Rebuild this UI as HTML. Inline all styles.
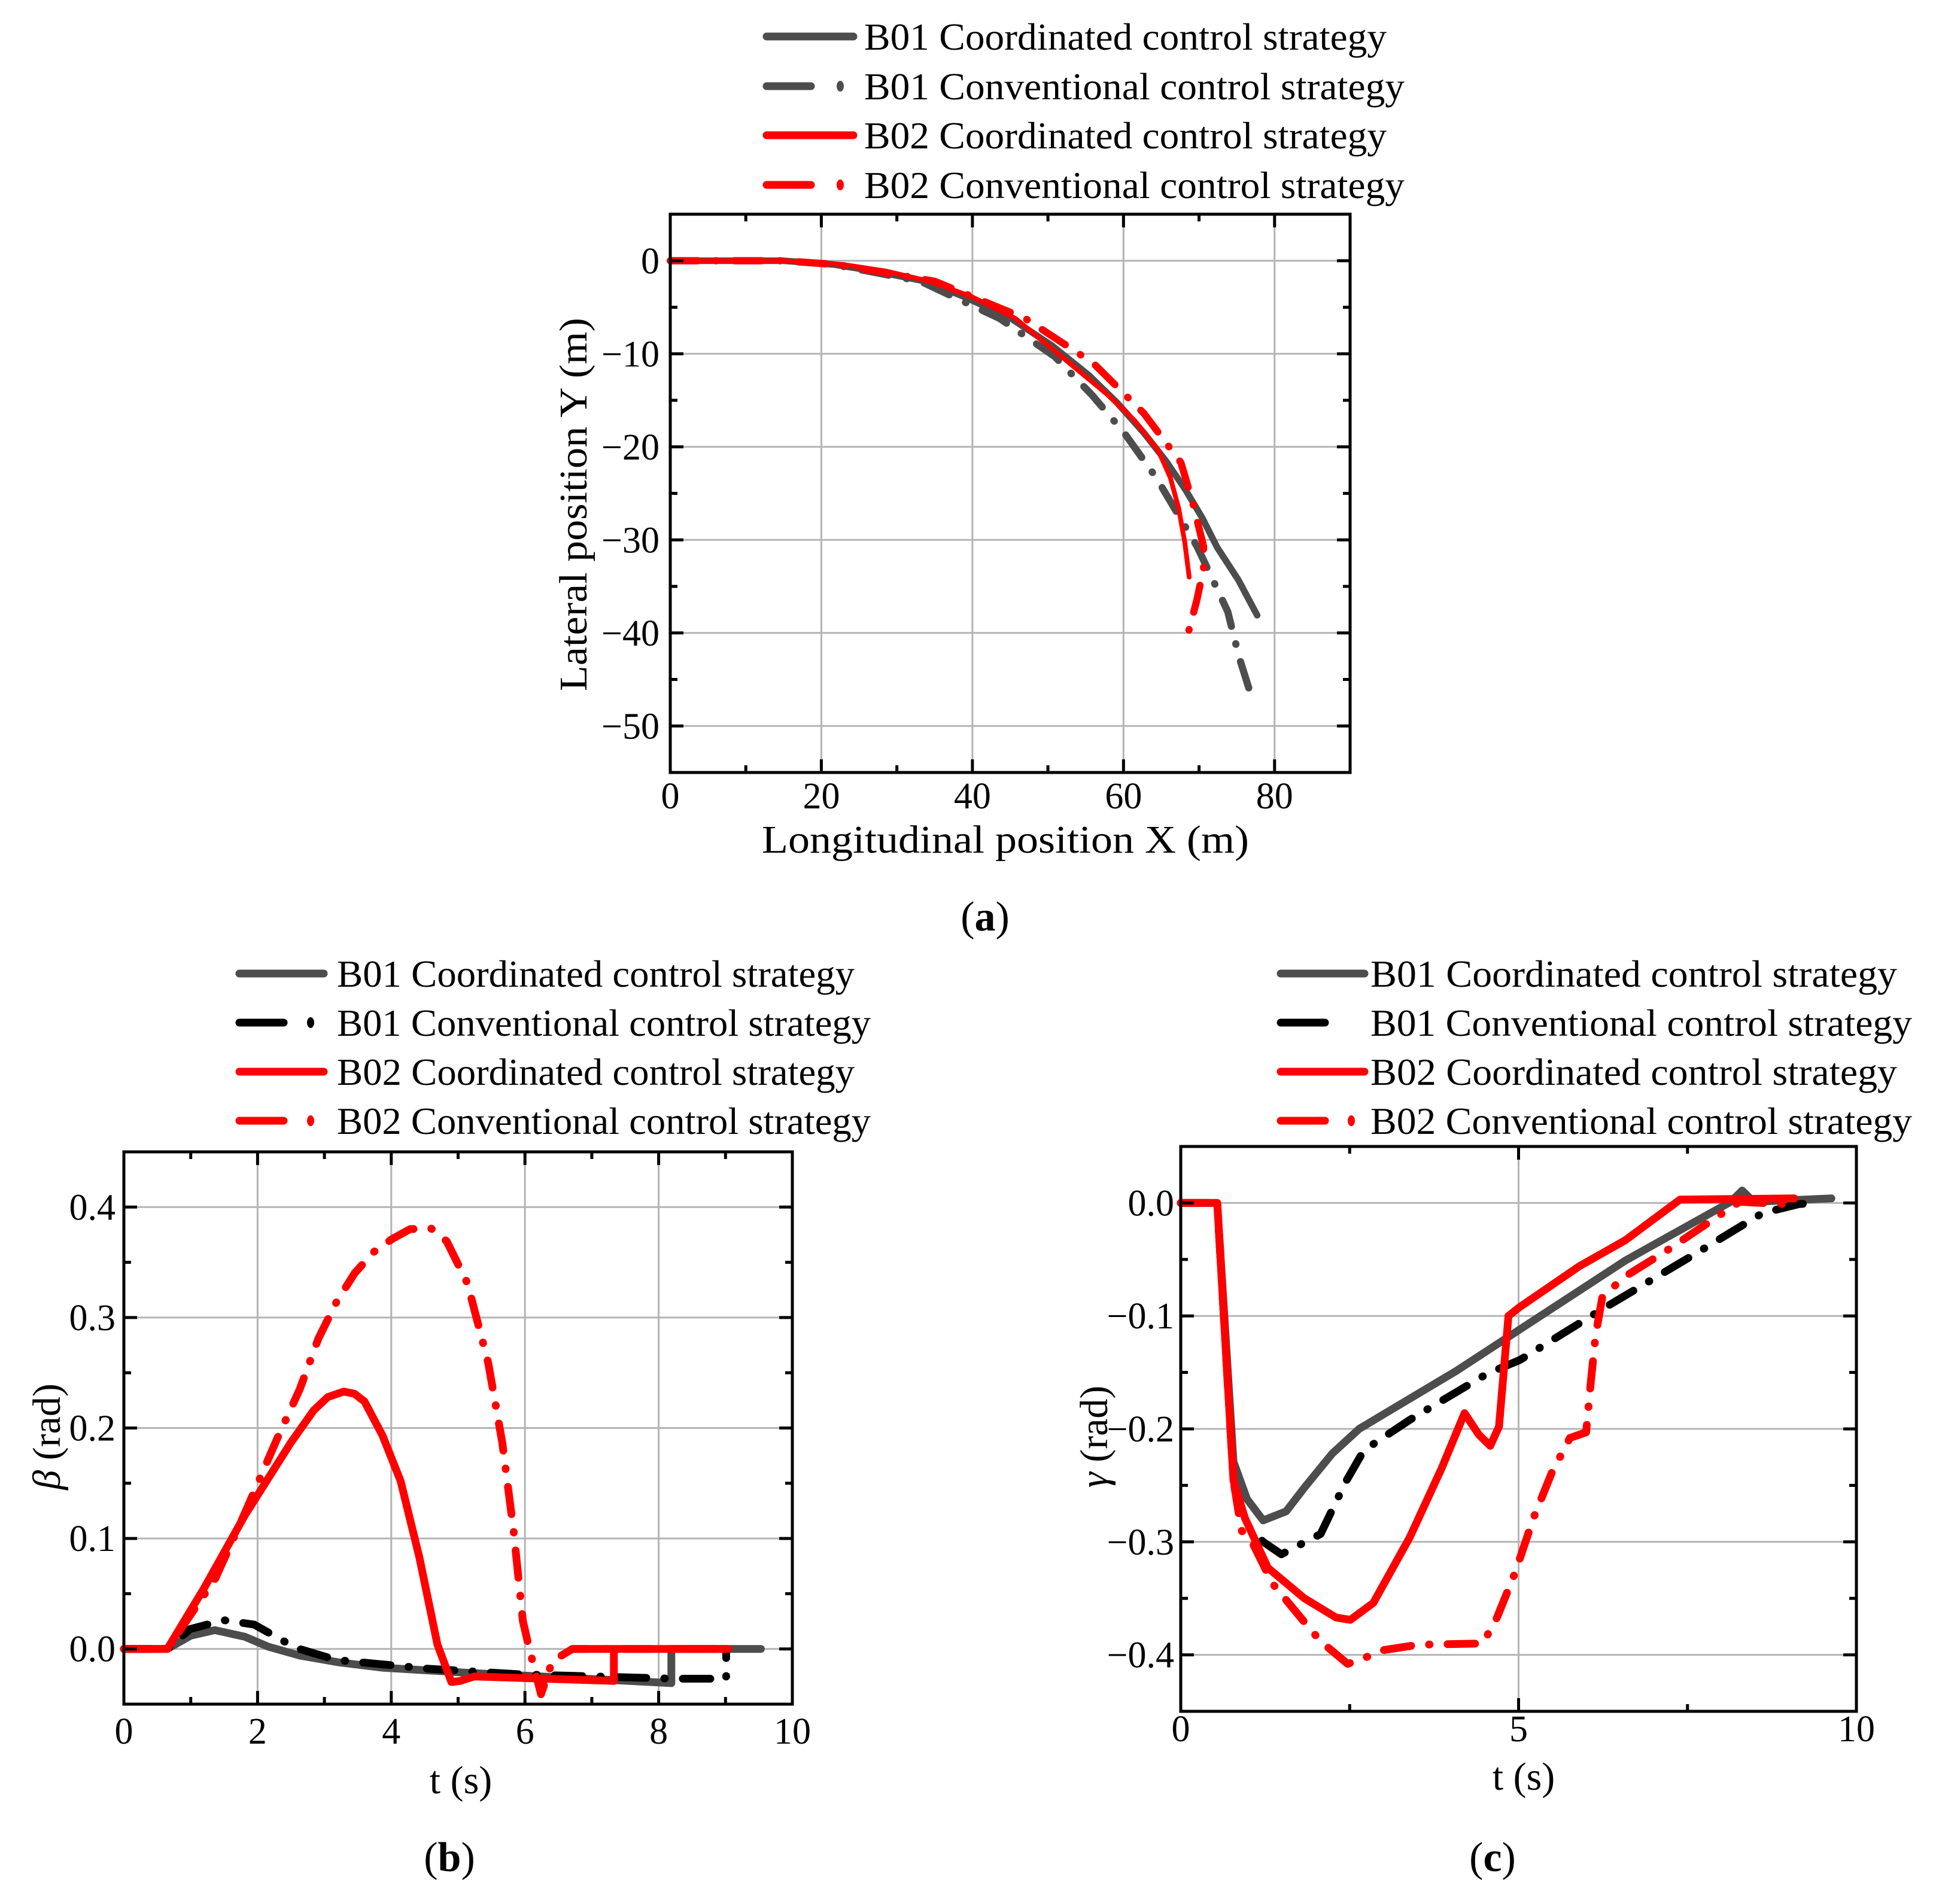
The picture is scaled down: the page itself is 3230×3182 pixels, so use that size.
<!DOCTYPE html>
<html><head><meta charset="utf-8">
<style>
html,body{margin:0;padding:0;background:#fff;}
svg{display:block;font-family:"Liberation Serif",serif;}
</style></head>
<body>
<svg id="fig" width="3230" height="3182" viewBox="0 0 3230 3182" xmlns="http://www.w3.org/2000/svg">
<rect width="3230" height="3182" fill="#fff"/>
</svg>
<script>
// ---------- Plot (a) data: trajectories ----------
const aB01CoordX = [0,15,21.6,27,33.7,39,45.1,50.5,55.4,59.2,62.7,65.6,68.2,70.4,72.4,75.2,77.7];
const aB01CoordY = [0,0,-0.4,-1.1,-2.2,-3.9,-6.2,-9.1,-12.3,-15.3,-18.5,-21.5,-24.6,-27.6,-30.8,-34.3,-38.1];
const aB01ConvX = [0,15,21.6,33.1,43.6,50.9,55.8,60.1,64.4,69.8,73.8,75.3,77.2];
const aB01ConvY = [0,0,-0.4,-2.2,-6.2,-10.3,-14.4,-18.5,-23.4,-30.8,-37.7,-42.6,-47.5];
const aB02CoordX = [0,15,22.8,28.5,34.3,40,45.7,51.8,57.9,61.5,64.6,66.2,67.3,68.1,68.7];
const aB02CoordY = [0,0,-0.4,-1.1,-2.2,-3.9,-6.2,-10.3,-14.4,-17.2,-20.4,-23.3,-26.6,-30.2,-34.0];
const aB02ConvX = [0,15,22,35,47,56,62.7,67.6,69.1,70.6,70.6,69.7,68.5];
const aB02ConvY = [0,0,-0.4,-2.2,-6.2,-11,-16.4,-21.7,-25.8,-30.7,-33.1,-36.5,-40.2];
const aXTicks = [0,20,40,60,80];
const aYTicks = [0,-10,-20,-30,-40,-50];

// ---------- Plot (b) data: sideslip angle ----------
const bB01CoordT = [0,0.65,1.0,1.36,1.81,2.16,2.63,3.2,3.87,5.24,6.61,8.19,8.19,9.53];
const bB01CoordV = [0,0,0.012,0.017,0.011,0.002,-0.006,-0.012,-0.017,-0.022,-0.026,-0.031,0,0];
const bB01ConvT = [0,0.65,0.99,1.5,1.95,2.57,3.18,4.56,5.93,8.26,9.01,9.01];
const bB01ConvV = [0,0,0.018,0.026,0.022,0.001,-0.01,-0.018,-0.023,-0.027,-0.027,-0.003];
const bB02CoordT = [0,0.65,1.2,1.81,2.5,2.84,3.05,3.29,3.45,3.6,3.87,4.14,4.42,4.69,4.9,5.03,5.24,7.33,7.33,6.71,9.04];
const bB02CoordV = [0,0,0.055,0.121,0.187,0.216,0.228,0.233,0.231,0.224,0.193,0.152,0.083,0.004,-0.03,-0.029,-0.025,-0.029,0,0,0];
const bB02ConvT = [0,0.65,1.37,1.81,2.29,2.63,2.91,3.18,3.45,3.73,4.01,4.28,4.59,4.83,5.14,5.45,5.66,5.83,5.97,6.07,6.24,6.41,6.71,9.04];
const bB02ConvV = [0,0,0.064,0.123,0.19,0.235,0.281,0.314,0.34,0.359,0.371,0.38,0.381,0.369,0.331,0.259,0.187,0.107,0.025,-0.001,-0.041,-0.011,0,0];
const bXTicks = [0,2,4,6,8,10];
const bYTicks = [0,0.1,0.2,0.3,0.4];

// ---------- Plot (c) data: yaw rate ----------
const cB01CoordT = [0,0.54,0.78,0.98,1.22,1.56,1.83,2.24,2.64,4.07,6.58,8.14,8.31,8.48,9.63];
const cB01CoordV = [0,0,-0.229,-0.262,-0.281,-0.273,-0.252,-0.222,-0.2,-0.149,-0.051,0.001,0.011,0.001,0.004];
const cB01ConvT = [0,0.54,0.68,0.78,0.88,1.22,1.49,2.07,2.44,2.71,3.39,4.54,5.02,6.24,7.59,8.61,9.15,9.39];
const cB01ConvV = [0,0,-0.144,-0.246,-0.279,-0.3,-0.311,-0.293,-0.247,-0.219,-0.192,-0.151,-0.139,-0.094,-0.046,-0.009,-0.001,0];
const cB02CoordT = [0,0.54,0.68,0.78,0.95,1.29,1.83,2.3,2.51,2.85,3.39,3.86,4.2,4.41,4.58,4.71,4.85,5.02,5.9,6.58,7.39,9.08];
const cB02CoordV = [0,0,-0.144,-0.246,-0.279,-0.323,-0.35,-0.367,-0.369,-0.354,-0.296,-0.235,-0.186,-0.205,-0.215,-0.198,-0.1,-0.092,-0.056,-0.033,0.003,0.004];
const cB02ConvT = [0,0.54,0.68,0.78,0.9,1.08,1.36,1.83,2.07,2.47,2.71,2.98,3.52,4.47,4.68,4.95,5.22,5.49,5.76,6.0,6.07,6.14,6.24,6.58,7.25,7.93,8.27,8.95];
const cB02ConvV = [0,0,-0.144,-0.246,-0.29,-0.303,-0.337,-0.371,-0.388,-0.408,-0.403,-0.396,-0.391,-0.39,-0.367,-0.327,-0.279,-0.239,-0.208,-0.203,-0.158,-0.117,-0.083,-0.065,-0.04,-0.0125,0.001,-0.001];
const cXTicks = [0,5,10];
const cYTicks = [0,-0.1,-0.2,-0.3,-0.4];

const legendLabels = ["B01 Coordinated control strategy","B01 Conventional control strategy","B02 Coordinated control strategy","B02 Conventional control strategy"];

const NS = "http://www.w3.org/2000/svg";
const svg = document.getElementById('fig');
function mk(tag, attrs, parent){
  const e = document.createElementNS(NS, tag);
  for (const k in attrs) e.setAttribute(k, attrs[k]);
  (parent||svg).appendChild(e);
  return e;
}
const GRAY="#4d4d4d", RED="#ff0000", BLACK="#000000";
const DASHDOT="46 30 1 30";
function fmtNeg(s){ return s.replace('-', '\u2212'); }

function makePlot(cfg){
  const g = mk('g', {});
  
  
  const sx = v => cfg.L + (v - cfg.xmin)/(cfg.xmax-cfg.xmin)*(cfg.R-cfg.L);
  const sy = v => cfg.B - (v - cfg.ymin)/(cfg.ymax-cfg.ymin)*(cfg.B-cfg.T);
  const grid = mk('g', {stroke:'#b4b4b4','stroke-width':3}, g);
  
  
  cfg.xt.forEach(v => { if (v>cfg.xmin && v<cfg.xmax) mk('line',{x1:sx(v),x2:sx(v),y1:cfg.T,y2:cfg.B},grid); });
  cfg.yt.forEach(v => { if (v>cfg.ymin && v<cfg.ymax) mk('line',{x1:cfg.L,x2:cfg.R,y1:sy(v),y2:sy(v)},grid); });
  cfg.series.forEach(s => {
    const pts = s.x.map((v,i)=> sx(v).toFixed(1)+','+sy(s.y[i]).toFixed(1)).join(' ');
    const p = mk('polyline',{points:pts,fill:'none',stroke:s.color,'stroke-width':s.w,'stroke-linejoin':'round','stroke-linecap':'round'}, g);
    if (s.dash) p.setAttribute('stroke-dasharray', s.dash);
    
    
  });
  const tk = mk('g',{stroke:'#000','stroke-width':5},g);
  
  
  const maj=22, mn=12;
  for (let v=cfg.xmin; v<=cfg.xmax+1e-9; v+=cfg.xminor){
    const isMaj = cfg.xt.some(t=>Math.abs(t-v)<1e-6);
    const l = isMaj?maj:mn;
    mk('line',{x1:sx(v),x2:sx(v),y1:cfg.B,y2:cfg.B-l},tk);
    mk('line',{x1:sx(v),x2:sx(v),y1:cfg.T,y2:cfg.T+l},tk);
  }
  for (let v=cfg.ymin; v<=cfg.ymax+1e-9; v+=cfg.yminor){
    const isMaj = cfg.yt.some(t=>Math.abs(t-v)<1e-6);
    const l = isMaj?maj:mn;
    mk('line',{x1:cfg.L,x2:cfg.L+l,y1:sy(v),y2:sy(v)},tk);
    mk('line',{x1:cfg.R,x2:cfg.R-l,y1:sy(v),y2:sy(v)},tk);
  }
  const fr = mk('rect',{x:cfg.L,y:cfg.T,width:cfg.R-cfg.L,height:cfg.B-cfg.T,fill:'none',stroke:'#000','stroke-width':5},g);
  
  
  cfg.xt.forEach(v=>{
    const t = mk('text',{x:sx(v),y:cfg.xlabY+22,'font-size':62,'text-anchor':'middle'},g);
    t.textContent = fmtNeg(cfg.xfmt(v));
    
    
  });
  cfg.yt.forEach(v=>{
    const t = mk('text',{x:cfg.ylabR,y:sy(v)+21,'font-size':62,'text-anchor':'end'},g);
    t.textContent = fmtNeg(cfg.yfmt(v));
    
    
  });
  return g;
}

function legend(x0, x1, tx, rows, styles, widths){
  const g = mk('g',{});
  
  
  rows.forEach((y,i)=>{
    const st = styles[i];
    if (st.dash){
      const d = mk('line',{x1:x0,x2:x0+74,y1:y,y2:y,stroke:st.color,'stroke-width':st.w,'stroke-linecap':'round'},g);
      
      
      if (st.dot){
        const c = mk('ellipse',{cx:x1-22,cy:y,rx:6,ry:9,fill:st.color},g);
        
        
      }
    } else {
      const l = mk('line',{x1:x0,x2:x1,y1:y,y2:y,stroke:st.color,'stroke-width':st.w,'stroke-linecap':'round'},g);
      
      
    }
    const t = mk('text',{x:tx,y:y+22,'font-size':64,textLength:widths[i],lengthAdjust:'spacingAndGlyphs'},g);
    t.textContent = legendLabels[i];
    
    
  });
}

function label(txt, x, y, size, opts){
  const t = mk('text',Object.assign({x:x,y:y,'font-size':size,'text-anchor':'middle'},opts||{}));
  t.innerHTML = txt;
  return t;
}

// ---- Plot a ----
makePlot({name:'plot-a-trajectory', L:1120, R:2256, T:358, B:1291, xmin:0,xmax:90,ymin:-55,ymax:5,
  xt:aXTicks, yt:aYTicks, xminor:10, yminor:5, xlabY:1329, ylabR:1102,
  xfmt:v=>String(v), yfmt:v=>String(v),
  series:[
    {name:'a-b01-coordinated', x:aB01CoordX, y:aB01CoordY, color:GRAY, w:11},
    {name:'a-b01-conventional', x:aB01ConvX, y:aB01ConvY, color:GRAY, w:12, dash:DASHDOT},
    {name:'a-b02-coordinated', x:aB02CoordX, y:aB02CoordY, color:RED, w:8},
    {name:'a-b02-conventional', x:aB02ConvX, y:aB02ConvY, color:RED, w:12, dash:DASHDOT}
  ]});
legend(1281,1426,1444,[61,144,226,309],
  [{color:GRAY,w:13},{color:GRAY,w:13,dash:1,dot:1},{color:RED,w:13},{color:RED,w:13,dash:1,dot:1}],
  [873,903,873,903]);
let t;
t = label('Longitudinal position X (m)', 1680, 1425, 66, {textLength:814,lengthAdjust:'spacingAndGlyphs'});


t = label('Lateral position Y (m)', 0, 0, 66, {transform:'translate(980,843) rotate(-90)',textLength:624,lengthAdjust:'spacingAndGlyphs'});


t = label('(<tspan font-weight="bold">a</tspan>)', 1646, 1555, 70);



// ---- Plot b ----
makePlot({name:'plot-b-sideslip', L:207, R:1324, T:1925, B:2848, xmin:0,xmax:10,ymin:-0.05,ymax:0.45,
  xt:bXTicks, yt:bYTicks, xminor:1, yminor:0.05, xlabY:2892, ylabR:193,
  xfmt:v=>String(v), yfmt:v=>v.toFixed(1),
  series:[
    {name:'b-b01-coordinated', x:bB01CoordT, y:bB01CoordV, color:GRAY, w:13},
    {name:'b-b01-conventional', x:bB01ConvT, y:bB01ConvV, color:BLACK, w:13, dash:DASHDOT},
    {name:'b-b02-coordinated', x:bB02CoordT, y:bB02CoordV, color:RED, w:13},
    {name:'b-b02-conventional', x:bB02ConvT, y:bB02ConvV, color:RED, w:13, dash:DASHDOT}
  ]});
legend(400,541,563,[1627,1709,1791,1873],
  [{color:GRAY,w:13},{color:BLACK,w:13,dash:1,dot:1},{color:RED,w:13},{color:RED,w:13,dash:1,dot:1}],
  [865,892,865,892]);
t = label('t (s)', 770, 2997, 66);


t = label('<tspan font-style="italic">β</tspan> (rad)', 0, 0, 66, {transform:'translate(100,2401) rotate(-90)'});


t = label('(<tspan font-weight="bold">b</tspan>)', 751, 3127, 70);



// ---- Plot c ----
makePlot({name:'plot-c-yaw-rate', L:1973, R:3102, T:1916, B:2860, xmin:0,xmax:10,ymin:-0.45,ymax:0.05,
  xt:cXTicks, yt:cYTicks, xminor:2.5, yminor:0.05, xlabY:2888, ylabR:1962,
  xfmt:v=>String(v), yfmt:v=>v.toFixed(1),
  series:[
    {name:'c-b01-coordinated', x:cB01CoordT, y:cB01CoordV, color:GRAY, w:13},
    {name:'c-b01-conventional', x:cB01ConvT, y:cB01ConvV, color:BLACK, w:13, dash:DASHDOT},
    {name:'c-b02-coordinated', x:cB02CoordT, y:cB02CoordV, color:RED, w:13},
    {name:'c-b02-conventional', x:cB02ConvT, y:cB02ConvV, color:RED, w:13, dash:DASHDOT}
  ]});
legend(2140,2280,2290,[1627,1709,1791,1873],
  [{color:GRAY,w:13},{color:BLACK,w:13,dash:1},{color:RED,w:13},{color:RED,w:13,dash:1,dot:1}],
  [880,905,880,905]);
t = label('t (s)', 2546, 2991, 66);


t = label('<tspan font-style="italic">γ</tspan> (rad)', 0, 0, 66, {transform:'translate(1850,2401) rotate(-90)'});


t = label('(<tspan font-weight="bold">c</tspan>)', 2494, 3127, 70);


</script>
</body></html>
